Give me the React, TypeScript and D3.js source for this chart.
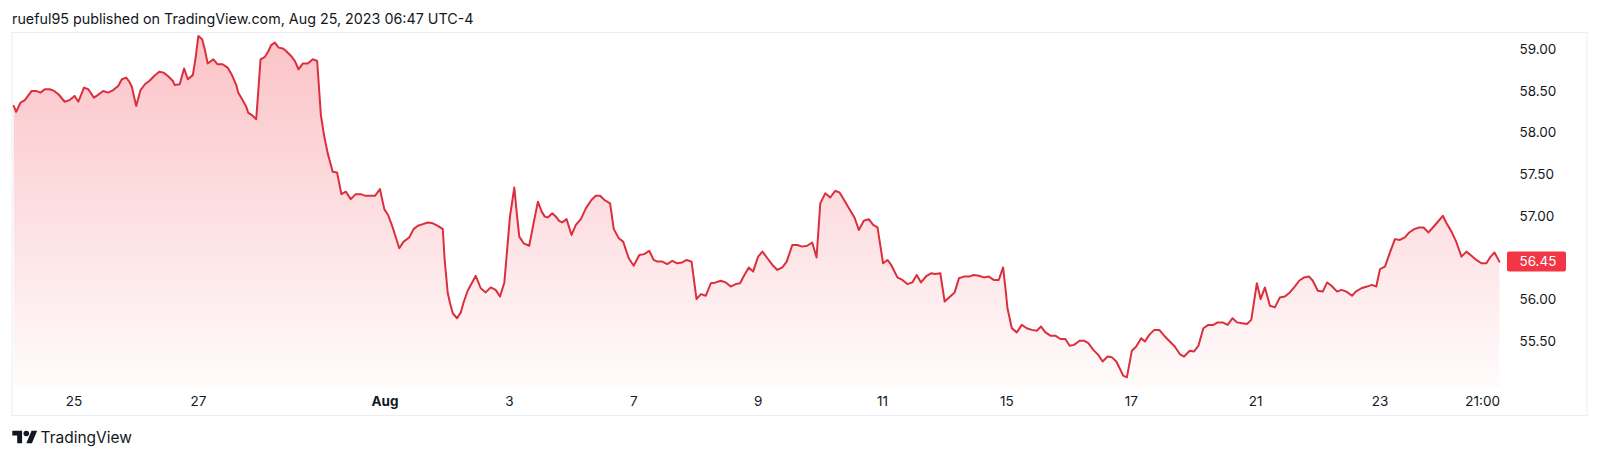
import React from "react";
import * as d3 from "d3";

const times: number[] = [
  -5.97,-5.93,-5.86,-5.79,-5.74,-5.68,-5.61,-5.54,-5.47,-5.39,
  -5.32,-5.25,-5.15,-5.07,-4.99,-4.93,-4.84,-4.77,-4.68,-4.62,
  -4.53,-4.45,-4.37,-4.29,-4.23,-4.16,-4.11,-4.07,-4.00,-3.93,
  -3.86,-3.79,-3.71,-3.63,-3.56,-3.49,-3.41,-3.38,-3.30,-3.23,
  -3.17,-3.09,-3.05,-3.00,-2.94,-2.90,-2.85,-2.76,-2.69,-2.61,
  -2.53,-2.46,-2.39,-2.36,-2.29,-2.23,-2.20,-2.14,-2.07,-2.00,
  -1.93,-1.88,-1.83,-1.77,-1.71,-1.64,-1.59,-1.51,-1.45,-1.39,
  -1.32,-1.24,-1.16,-1.09,-1.03,-0.98,-0.92,-0.84,-0.77,-0.70,
  -0.63,-0.55,-0.47,-0.39,-0.31,-0.22,-0.16,-0.08,-0.01,0.05,
  0.12,0.18,0.23,0.30,0.39,0.46,0.53,0.61,0.69,0.77,
  0.85,0.93,0.96,1.01,1.05,1.09,1.16,1.22,1.26,1.33,
  1.38,1.46,1.54,1.62,1.70,1.78,1.85,1.92,2.01,2.08,
  2.12,2.16,2.23,2.32,2.40,2.46,2.52,2.57,2.62,2.69,
  2.75,2.80,2.85,2.92,3.00,3.07,3.15,3.23,3.32,3.39,
  3.46,3.53,3.62,3.68,3.76,3.83,3.92,4.00,4.09,4.17,
  4.25,4.32,4.38,4.46,4.54,4.62,4.70,4.78,4.85,4.93,
  5.01,5.08,5.16,5.24,5.32,5.40,5.48,5.56,5.64,5.71,
  5.78,5.85,5.92,6.00,6.07,6.15,6.23,6.31,6.39,6.46,
  6.55,6.63,6.71,6.79,6.87,6.94,7.00,7.08,7.16,7.24,
  7.31,7.39,7.47,7.55,7.62,7.70,7.78,7.85,7.92,8.01,
  8.08,8.14,8.24,8.32,8.40,8.48,8.55,8.62,8.71,8.78,
  8.85,8.93,9.00,9.07,9.16,9.23,9.31,9.39,9.47,9.55,
  9.63,9.71,9.79,9.87,9.94,9.98,10.01,10.08,10.16,10.24,
  10.32,10.40,10.48,10.55,10.62,10.70,10.78,10.86,10.94,11.01,
  11.08,11.17,11.24,11.31,11.39,11.47,11.54,11.62,11.69,11.76,
  11.82,11.87,11.93,12.01,12.08,12.16,12.22,12.29,12.37,12.45,
  12.53,12.62,12.70,12.78,12.85,12.94,13.01,13.08,13.16,13.24,
  13.32,13.39,13.47,13.55,13.63,13.70,13.78,13.86,13.93,14.02,
  14.08,14.15,14.23,14.31,14.39,14.47,14.55,14.63,14.70,14.78,
  14.86,14.92,15.00,15.08,15.15,15.22,15.31,15.38,15.46,15.55,
  15.61,15.70,15.79,15.87,15.94,16.00,16.08,16.15,16.24,16.32,
  16.40,16.47,16.55,16.63,16.70,16.78,16.85,16.92,17.01,17.07,
  17.15,17.23,17.31,17.39,17.47,17.55,17.63,17.71,17.77,17.84,
  17.92,
];

const prices: number[] = [
  58.32,58.25,58.36,58.39,58.44,58.50,58.50,58.48,58.52,58.52,
  58.50,58.46,58.37,58.39,58.44,58.37,58.54,58.52,58.42,58.45,
  58.50,58.48,58.51,58.56,58.64,58.66,58.61,58.55,58.32,58.51,
  58.58,58.62,58.68,58.73,58.72,58.68,58.62,58.57,58.58,58.77,
  58.64,58.69,58.87,59.16,59.12,59.01,58.83,58.88,58.82,58.82,
  58.78,58.69,58.57,58.48,58.39,58.31,58.24,58.21,58.16,58.88,
  58.91,58.97,59.05,59.08,59.02,59.01,58.98,58.92,58.86,58.76,
  58.83,58.83,58.88,58.86,58.21,57.97,57.75,57.53,57.52,57.26,
  57.29,57.20,57.26,57.26,57.24,57.24,57.24,57.32,57.08,57.01,
  56.87,56.73,56.61,56.69,56.74,56.84,56.88,56.90,56.92,56.91,
  56.88,56.84,56.47,56.07,55.94,55.83,55.77,55.84,55.95,56.10,
  56.17,56.28,56.13,56.08,56.14,56.11,56.03,56.20,56.99,57.34,
  57.03,56.75,56.67,56.64,56.95,57.17,57.05,56.99,56.98,57.03,
  56.99,56.94,56.92,56.96,56.77,56.89,56.96,57.09,57.19,57.24,
  57.24,57.19,57.15,56.84,56.73,56.69,56.49,56.40,56.53,56.54,
  56.58,56.47,56.45,56.45,56.42,56.46,56.43,56.44,56.47,56.45,
  56.00,56.06,56.04,56.19,56.20,56.22,56.20,56.15,56.18,56.19,
  56.29,56.38,56.33,56.51,56.57,56.49,56.41,56.35,56.38,56.45,
  56.65,56.65,56.63,56.64,56.68,56.50,57.15,57.27,57.22,57.30,
  57.28,57.18,57.08,56.98,56.83,56.94,56.96,56.89,56.86,56.43,
  56.47,56.41,56.26,56.23,56.18,56.20,56.29,56.20,56.28,56.31,
  56.30,56.31,55.97,56.02,56.08,56.25,56.27,56.27,56.29,56.28,
  56.26,56.27,56.23,56.23,56.38,56.11,55.89,55.65,55.60,55.69,
  55.65,55.63,55.62,55.67,55.60,55.56,55.56,55.52,55.52,55.44,
  55.45,55.50,55.50,55.47,55.39,55.33,55.25,55.31,55.30,55.25,
  55.16,55.08,55.06,55.38,55.43,55.53,55.49,55.57,55.63,55.63,
  55.56,55.49,55.43,55.34,55.31,55.38,55.37,55.44,55.65,55.69,
  55.69,55.72,55.72,55.69,55.77,55.72,55.71,55.70,55.75,56.19,
  56.00,56.14,55.92,55.90,56.02,56.03,56.08,56.15,56.22,56.26,
  56.27,56.22,56.10,56.09,56.20,56.16,56.09,56.11,56.09,56.04,
  56.09,56.13,56.15,56.17,56.15,56.36,56.39,56.54,56.72,56.71,
  56.74,56.80,56.84,56.86,56.86,56.80,56.86,56.92,57.00,56.91,
  56.81,56.68,56.51,56.57,56.52,56.47,56.43,56.43,56.50,56.56,
  56.45,
];

const xTickValues: number[] = [-5, -3, 0, 2, 4, 6, 8, 10, 12, 14, 16, 17.65];
const xTickLabels: string[] = ["25", "27", "Aug", "3", "7", "9", "11", "15", "17", "21", "23", "21:00"];
// 56.50 is hidden behind the last-price label in the reference
const yTickValues: number[] = [55.5, 56, 57, 57.5, 58, 58.5, 59];
const lastPrice = 56.45;
const headerText = "rueful95 published on TradingView.com, Aug 25, 2023 06:47 UTC-4";

const W = 1600;
const H = 458;
const FRAME = { left: 12, top: 32.5, right: 1587, bottom: 415.5 };
const PLOT_BOTTOM = 387;
const LINE_COLOR = "#dc2f3d";
const TEXT_COLOR = "#131722";
const FONT = "Inter, 'Noto Sans', sans-serif";

export default function App() {
  const n = Math.min(times.length, prices.length);
  const data = d3.range(n).map((i) => ({ t: times[i], v: prices[i] }));

  const x = d3.scaleLinear().domain([-5, 16]).range([74, 1380]);
  const y = d3.scaleLinear().domain([55.5, 59]).range([340.7, 49.3]);

  const line = d3
    .line<{ t: number; v: number }>()
    .x((d) => x(d.t))
    .y((d) => y(d.v));
  const area = d3
    .area<{ t: number; v: number }>()
    .x((d) => x(d.t))
    .y0(PLOT_BOTTOM)
    .y1((d) => y(d.v));

  const yMax = y(d3.max(prices) as number);

  return (
    <svg
      width={W}
      height={H}
      viewBox={`0 0 ${W} ${H}`}
      style={{ display: "block", position: "absolute", left: 0, top: 0, background: "#fff" }}
    >
      <defs>
        <linearGradient id="areaGrad" gradientUnits="userSpaceOnUse" x1={0} y1={yMax} x2={0} y2={PLOT_BOTTOM}>
          <stop offset="0%" stopColor="#f23645" stopOpacity={0.3} />
          <stop offset="100%" stopColor="#f23645" stopOpacity={0.02} />
        </linearGradient>
        <clipPath id="plotClip">
          <rect x={FRAME.left} y={FRAME.top} width={FRAME.right - FRAME.left} height={PLOT_BOTTOM - FRAME.top} />
        </clipPath>
      </defs>
      <rect x={0} y={0} width={W} height={H} fill="#fff" />

      <text x={12} y={24} fontFamily={FONT} fontSize={14.3} fill={TEXT_COLOR}>
        {headerText}
      </text>

      <rect
        x={FRAME.left}
        y={FRAME.top}
        width={FRAME.right - FRAME.left}
        height={FRAME.bottom - FRAME.top}
        fill="none"
        stroke="#eceef2"
        strokeWidth={1}
      />

      <g clipPath="url(#plotClip)">
        <path d={area(data) || ""} fill="url(#areaGrad)" />
        <path d={line(data) || ""} fill="none" stroke={LINE_COLOR} strokeWidth={2} strokeLinejoin="round" strokeLinecap="round" />
      </g>

      <g fontFamily={FONT} fontSize={13.5} fill={TEXT_COLOR}>
        {yTickValues.map((v) => (
          <text key={v} x={1519.5} y={y(v)} dy="0.36em">
            {d3.format(".2f")(v)}
          </text>
        ))}
      </g>

      <g>
        <rect x={1507} y={y(lastPrice) - 10} width={59} height={20} rx={2} fill="#f23645" />
        <text x={1519.5} y={y(lastPrice)} dy="0.36em" fontFamily={FONT} fontSize={13.5} fill="#fff">
          {d3.format(".2f")(lastPrice)}
        </text>
      </g>

      <g fontFamily={FONT} fontSize={13.5} fill={TEXT_COLOR} textAnchor="middle">
        {xTickValues.map((t, i) => (
          <text key={i} x={x(t)} y={401} dy="0.36em" fontWeight={xTickLabels[i] === "Aug" ? 700 : 400}>
            {xTickLabels[i]}
          </text>
        ))}
      </g>

      <g transform="translate(12.3,427.9) scale(0.7)" fill={TEXT_COLOR}>
        <path d="M14 22H7V11H0V4h14v18zM28 22h-8l7.5-18h8L28 22z" />
        <circle cx={20} cy={8} r={4} />
      </g>
      <text x={40.5} y={443.3} fontFamily={FONT} fontSize={15.5} fill={TEXT_COLOR}>
        TradingView
      </text>
    </svg>
  );
}
